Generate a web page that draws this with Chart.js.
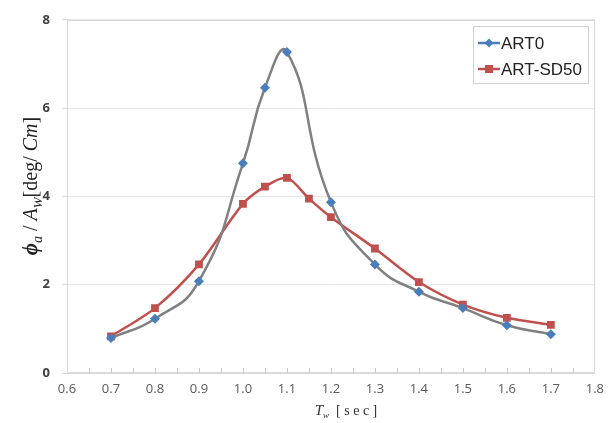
<!DOCTYPE html>
<html>
<head>
<meta charset="utf-8">
<script src="https://cdn.jsdelivr.net/npm/chart.js@4/dist/chart.umd.min.js"></script>
<style>
html,body{margin:0;padding:0;background:#fff;}
#wrap{width:612px;height:423px;position:relative;}
</style>
</head>
<body>
<div id="wrap"><canvas id="c" width="612" height="423"></canvas></div>
<script>
// Data
const periodsArt0 = [0.7, 0.8, 0.9, 1.0, 1.05, 1.1, 1.2, 1.3, 1.4, 1.5, 1.6, 1.7];
const valuesArt0  = [0.79, 1.23, 2.08, 4.75, 6.46, 7.27, 3.87, 2.46, 1.84, 1.47, 1.08, 0.88];
const periodsSd50 = [0.7, 0.8, 0.9, 1.0, 1.05, 1.1, 1.15, 1.2, 1.3, 1.4, 1.5, 1.6, 1.7];
const valuesSd50  = [0.83, 1.47, 2.46, 3.83, 4.22, 4.42, 3.95, 3.53, 2.82, 2.06, 1.55, 1.25, 1.09];
const seriesNames = ["ART0", "ART-SD50"];
const xTickLabels = ["0.6","0.7","0.8","0.9","1.0","1.1","1.2","1.3","1.4","1.5","1.6","1.7","1.8"];
const yTickLabels = ["0","2","4","6","8"];

const BLUE = "#4a7ebb", GRAY = "#808080", RED = "#c0504d";

function pts(xs, ys){ return xs.map((x,i)=>({x:x, y:ys[i]})); }

const decor = {
  id: "decor",
  beforeDatasetsDraw(chart){
    const {ctx, chartArea:a, scales} = chart;
    ctx.save();
    ctx.strokeStyle = "#d9d9d9";
    ctx.lineWidth = 1;
    ctx.strokeRect(Math.round(a.left)+0.5, Math.round(a.top)+0.5, Math.round(a.right-a.left)-1, Math.round(a.bottom-a.top)-1);
    // inner minor tick marks on x axis
    ctx.strokeStyle = "#c8c8c8";
    ctx.beginPath();
    for (let i=1;i<24;i++){
      const v = 0.6 + i*0.05;
      const px = Math.round(scales.x.getPixelForValue(v))+0.5;
      ctx.moveTo(px, a.bottom); ctx.lineTo(px, a.bottom-5);
    }
    ctx.stroke();
    ctx.restore();
  },
  afterDraw(chart){
    const {ctx, chartArea:a} = chart;
    ctx.save();
    // Y title
    ctx.translate(30, 186);
    ctx.rotate(-Math.PI/2);
    ctx.fillStyle = "#222";
    ctx.textBaseline = "alphabetic";
    const parts = [
      {t:"ϕ", f:"italic bold 21px 'Liberation Serif'", dy:0},
      {t:"a", f:"italic 14px 'Liberation Serif'", dy:5},
      {t:" / ", f:"20px 'Liberation Serif'", dy:0},
      {t:"A", f:"italic 20px 'Liberation Serif'", dy:0},
      {t:"W", f:"italic 13px 'Liberation Serif'", dy:5},
      {t:"[deg/ ", f:"20px 'Liberation Serif'", dy:0},
      {t:"Cm", f:"italic 20px 'Liberation Serif'", dy:0},
      {t:"]", f:"20px 'Liberation Serif'", dy:0}
    ];
    let total = 0;
    parts.forEach(p=>{ctx.font=p.f; p.w=ctx.measureText(p.t).width; total+=p.w;});
    let x = -total/2;
    parts.forEach(p=>{ctx.font=p.f; ctx.fillText(p.t, x, 7+p.dy); x+=p.w;});
    ctx.restore();

    // X title
    ctx.save();
    ctx.fillStyle = "#333";
    ctx.textBaseline = "alphabetic";
    const xp = [
      {t:"T", f:"italic 15px 'Liberation Serif'", dy:0},
      {t:"w", f:"italic 9px 'Liberation Serif'", dy:3},
      {t:"  [ s e c ]", f:"14px 'Liberation Serif'", dy:0}
    ];
    let tw = 0;
    xp.forEach(p=>{ctx.font=p.f; p.w=ctx.measureText(p.t).width; tw+=p.w;});
    let xx = 346 - tw/2;
    xp.forEach(p=>{ctx.font=p.f; ctx.fillText(p.t, xx, 415+p.dy); xx+=p.w;});
    ctx.restore();

    // Legend
    ctx.save();
    const lx=473, ly=26, lw=115, lh=57;
    ctx.fillStyle="#fff";
    ctx.fillRect(lx,ly,lw,lh);
    ctx.strokeStyle="#d0d0d0"; ctx.lineWidth=1;
    ctx.strokeRect(lx+0.5,ly+0.5,lw,lh);
    const ds = chart.data.datasets;
    const entries = [
      {name:ds[0].label, line:BLUE, fill:BLUE, style:"diamond", y:ly+17},
      {name:ds[1].label, line:RED, fill:RED, style:"square", y:ly+43}
    ];
    entries.forEach(e=>{
      ctx.strokeStyle=e.line; ctx.lineWidth=2.5;
      ctx.beginPath(); ctx.moveTo(lx+5,e.y); ctx.lineTo(lx+27,e.y); ctx.stroke();
      ctx.fillStyle=e.fill;
      const cx=lx+16;
      if(e.style==="diamond"){
        ctx.beginPath(); ctx.moveTo(cx,e.y-4.5); ctx.lineTo(cx+4.5,e.y); ctx.lineTo(cx,e.y+4.5); ctx.lineTo(cx-4.5,e.y); ctx.closePath(); ctx.fill();
      } else {
        ctx.fillRect(cx-4,e.y-4,8,8);
      }
      ctx.fillStyle="#222";
      ctx.font="17px 'Liberation Sans'";
      ctx.textBaseline="middle";
      ctx.fillText(e.name, lx+28, e.y+1);
    });
    ctx.restore();
  }
};

new Chart(document.getElementById("c"), {
  type: "line",
  data: {
    datasets: [
      {
        label: seriesNames[0],
        data: pts(periodsArt0, valuesArt0),
        borderColor: GRAY,
        borderWidth: 2.5,
        tension: 0.5,
        pointStyle: "rectRot",
        pointRadius: 5,
        pointBackgroundColor: BLUE,
        pointBorderColor: BLUE,
        pointBorderWidth: 0,
        fill: false
      },
      {
        label: seriesNames[1],
        data: pts(periodsSd50, valuesSd50),
        borderColor: RED,
        borderWidth: 2.5,
        tension: 0.3,
        pointStyle: "rect",
        pointRadius: 5.5,
        pointBackgroundColor: RED,
        pointBorderColor: RED,
        pointBorderWidth: 0,
        fill: false
      }
    ]
  },
  options: {
    responsive: false,
    animation: false,
    layout: { padding: { left: 0, top: 17, right: 13, bottom: 0 } },
    plugins: { legend: { display: false }, tooltip: { enabled: false } },
    scales: {
      x: {
        type: "linear",
        min: 0.6, max: 1.8,
        afterFit(s){ s.height = 50; },
        afterBuildTicks(s){ s.ticks = xTickLabels.map(v=>({value: parseFloat(v)})); },
        ticks: {
          callback: (v, i) => xTickLabels[i],
          color: "#595959",
          font: { family: "'Open Sans'", size: 13 },
          padding: 8,
          maxRotation: 0,
          autoSkip: false
        },
        grid: { display: true, drawOnChartArea: false, drawTicks: true, tickLength: 0, color: "#d9d9d9" },
        border: { display: true, color: "#d9d9d9" }
      },
      y: {
        type: "linear",
        min: 0, max: 8,
        afterFit(s){ s.width = 67; },
        afterBuildTicks(s){ s.ticks = yTickLabels.map(v=>({value: parseFloat(v)})); },
        ticks: {
          callback: (v, i) => yTickLabels[i],
          color: "#404040",
          font: { family: "'Open Sans'", size: 13, weight: "bold" },
          padding: 12
        },
        grid: { color: "#e6e6e6", tickLength: 5, tickColor: "#d9d9d9" },
        border: { display: true, color: "#d9d9d9" }
      }
    }
  },
  plugins: [decor]
});
</script>
</body>
</html>
